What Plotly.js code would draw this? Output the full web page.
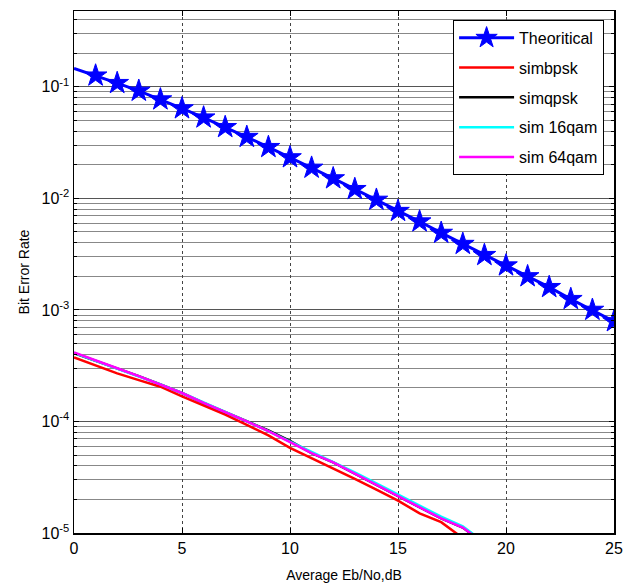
<!DOCTYPE html>
<html>
<head>
<meta charset="utf-8">
<script src="https://cdn.plot.ly/plotly-3.0.1.min.js"></script>
<style>html,body{margin:0;padding:0;background:#fff;}#chart{width:630px;height:588px;}</style>
</head>
<body>
<div id="chart"></div>
<script>
// Eb/No axis values (dB)
const ebno = [0,1,2,3,4,5,6,7,8,9,10,11,12,13,14,15,16,17,18,19,20,21,22,23,24,25];
const ebnoSim = [0,1,2,3,4,5,6,7,8,9,10,11,12,13,14,15,16,17,18,19];

// Series values
const theoretical = [0.146,0.126,0.108,0.092,0.077,0.064,0.053,0.0435,0.0355,0.0288,0.0233,0.0188,0.0151,0.0121,0.0097,0.0077,0.0062,0.0049,0.0039,0.0031,0.0025,0.0020,0.0016,0.00125,0.0010,0.00079];
const simbpsk = [3.75e-4,3.2e-4,2.7e-4,2.35e-4,2.05e-4,1.68e-4,1.40e-4,1.15e-4,9.3e-5,7.5e-5,5.8e-5,4.7e-5,3.8e-5,3.05e-5,2.45e-5,1.95e-5,1.5e-5,1.25e-5,9.0e-6,5.5e-6];
const simqpsk = [4.1e-4,3.5e-4,3.0e-4,2.55e-4,2.15e-4,1.80e-4,1.47e-4,1.22e-4,1.0e-4,8.3e-5,6.7e-5,5.2e-5,4.3e-5,3.4e-5,2.7e-5,2.15e-5,1.7e-5,1.35e-5,1.12e-5,8.0e-6];
const sim16qam = [4.12e-4,3.5e-4,3.0e-4,2.55e-4,2.15e-4,1.80e-4,1.47e-4,1.22e-4,1.0e-4,8.2e-5,6.6e-5,5.35e-5,4.35e-5,3.5e-5,2.78e-5,2.22e-5,1.75e-5,1.4e-5,1.15e-5,8.2e-6];
const sim64qam = [4.15e-4,3.5e-4,3.0e-4,2.55e-4,2.15e-4,1.80e-4,1.47e-4,1.22e-4,1.0e-4,8.2e-5,6.5e-5,5.2e-5,4.3e-5,3.4e-5,2.7e-5,2.15e-5,1.7e-5,1.35e-5,1.12e-5,8.0e-6];

const xTicks = [0,5,10,15,20,25];
const yTickVals = [1e-5,1e-4,1e-3,1e-2,1e-1];
const yTickText = ['10<sup>-5</sup>','10<sup>-4</sup>','10<sup>-3</sup>','10<sup>-2</sup>','10<sup>-1</sup>'];
const names = ['Theoritical','simbpsk','simqpsk','sim 16qam','sim 64qam'];

const minorVals = [];
for (let e = -5; e <= -1; e++) {
  for (let m = 2; m <= 9; m++) minorVals.push(m * Math.pow(10, e));
}
const starSizes = ebno.map((v, i) => i === 0 ? 0 : 17);

const traces = [
  {x: ebno, y: theoretical, name: names[0], legendgroup: 'g0', mode: 'lines+markers',
   line: {color: '#0000ff', width: 3},
   marker: {symbol: 'star', size: starSizes, color: '#0000ff', opacity: 1, line: {width: 1, color: '#0000ff'}}},
  {x: ebnoSim, y: simbpsk, name: names[1], legendgroup: 'g1', mode: 'lines', line: {color: '#ff0000', width: 2.5}},
  {x: ebnoSim, y: simqpsk, name: names[2], legendgroup: 'g2', mode: 'lines', line: {color: '#000000', width: 2.5}},
  {x: ebnoSim, y: sim16qam, name: names[3], legendgroup: 'g3', mode: 'lines', line: {color: '#00ffff', width: 2.5}},
  {x: ebnoSim, y: sim64qam, name: names[4], legendgroup: 'g4', mode: 'lines', line: {color: '#ff00ff', width: 2.5}}
];

const layout = {
  width: 630, height: 588,
  margin: {l: 74, r: 16, t: 11, b: 55},
  paper_bgcolor: '#fff', plot_bgcolor: '#fff',
  font: {family: 'Liberation Sans, Arial, sans-serif', color: '#000'},
  showlegend: true,
  legend: {x: 0.702, y: 0.983, xanchor: 'left', yanchor: 'top',
    bgcolor: '#fff', bordercolor: '#000', borderwidth: 1,
    tracegroupgap: 6, itemwidth: 55,
    font: {size: 16, color: '#000'}},
  xaxis: {
    range: [0, 25], tickvals: xTicks, ticktext: xTicks.map(String),
    showgrid: true, gridcolor: '#444', griddash: 'dot', gridwidth: 1,
    zeroline: false, showline: true, linecolor: '#000', linewidth: 1.5, mirror: 'ticks',
    ticks: 'inside', ticklen: 5, tickcolor: '#000',
    tickfont: {size: 16},
    title: {text: 'Average Eb/No,dB', font: {size: 14}, standoff: 14}
  },
  yaxis: {
    type: 'log', range: [-5, -0.32],
    tickvals: yTickVals, ticktext: yTickText,
    showgrid: true, gridcolor: '#555', gridwidth: 1,
    zeroline: false, showline: true, linecolor: '#000', linewidth: 1.5, mirror: 'ticks',
    ticks: 'inside', ticklen: 5, tickcolor: '#000',
    tickfont: {size: 16},
    minor: {tickvals: minorVals, showgrid: true, gridcolor: '#888', gridwidth: 1,
            ticks: 'inside', ticklen: 3, tickcolor: '#000'},
    title: {text: 'Bit Error Rate', font: {size: 14}, standoff: 8}
  }
};

Plotly.newPlot('chart', traces, layout, {displayModeBar: false, staticPlot: true});
</script>
</body>
</html>
